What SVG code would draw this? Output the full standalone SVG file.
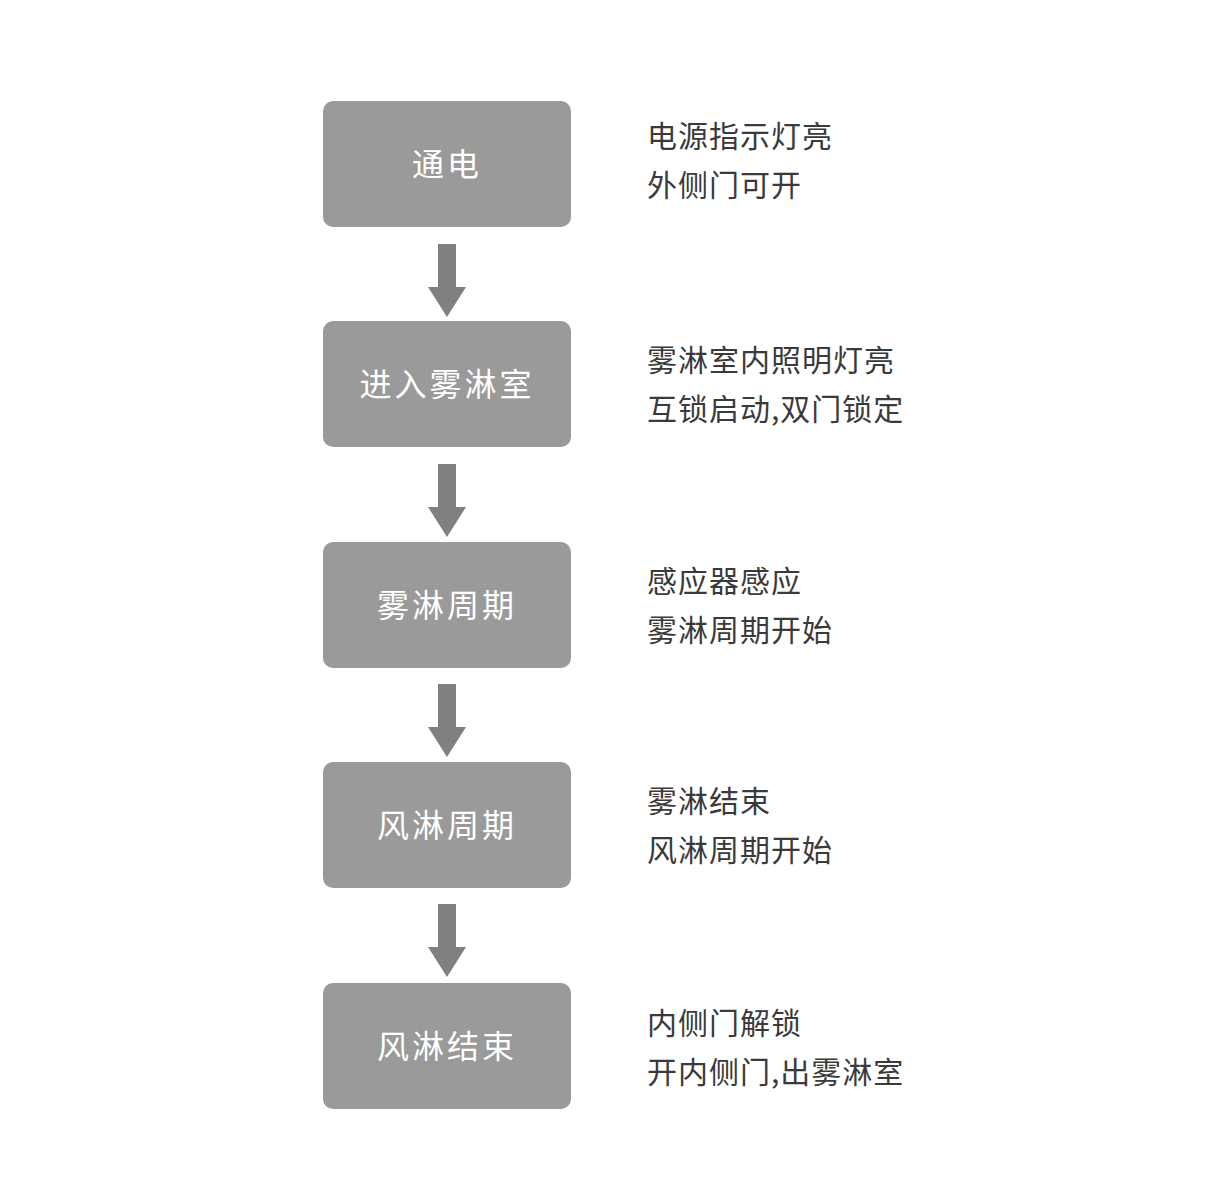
<svg xmlns="http://www.w3.org/2000/svg" width="1228" height="1179" viewBox="0 0 1228 1179">
<defs><style>
.box{fill:#999a99}
.bt{font-family:"Noto Sans CJK SC",sans-serif;font-size:32px;fill:#fff;text-anchor:middle;letter-spacing:3px}
.dt{font-family:"Noto Sans CJK SC",sans-serif;font-size:30px;fill:#3a3a3a;letter-spacing:1px}
.arr{fill:#808080}
</style>
<path id="a" d="M438 0H456V43H466L447 73L428 43H438Z"/></defs>
<rect width="1228" height="1179" fill="#fff"/>
<g id="connectors" class="arr">
<use href="#a" y="244"/><use href="#a" y="464"/><use href="#a" y="684"/><use href="#a" y="904"/>
</g>
<g id="n1"><rect class="box" x="323" y="101" width="248" height="126" rx="10"/><text class="bt" x="447" y="176">通电</text></g>
<g id="n2"><rect class="box" x="323" y="321" width="248" height="126" rx="10"/><text class="bt" x="447" y="396">进入雾淋室</text></g>
<g id="n3"><rect class="box" x="323" y="542" width="248" height="126" rx="10"/><text class="bt" x="447" y="617">雾淋周期</text></g>
<g id="n4"><rect class="box" x="323" y="762" width="248" height="126" rx="10"/><text class="bt" x="447" y="837">风淋周期</text></g>
<g id="n5"><rect class="box" x="323" y="983" width="248" height="126" rx="10"/><text class="bt" x="447" y="1058">风淋结束</text></g>
<g id="d1"><text class="dt" x="647" y="147">电源指示灯亮</text><text class="dt" x="647" y="196">外侧门可开</text></g>
<g id="d2"><text class="dt" x="647" y="371">雾淋室内照明灯亮</text><text class="dt" x="647" y="420">互锁启动,双门锁定</text></g>
<g id="d3"><text class="dt" x="647" y="592">感应器感应</text><text class="dt" x="647" y="641">雾淋周期开始</text></g>
<g id="d4"><text class="dt" x="647" y="812">雾淋结束</text><text class="dt" x="647" y="861">风淋周期开始</text></g>
<g id="d5"><text class="dt" x="647" y="1034">内侧门解锁</text><text class="dt" x="647" y="1083">开内侧门,出雾淋室</text></g>
</svg>
